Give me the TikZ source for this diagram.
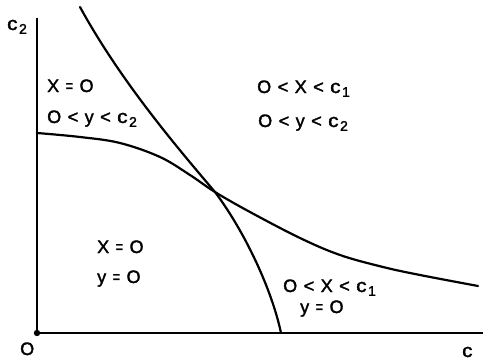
\documentclass[tikz,border=0pt]{standalone}
\usepackage{fontspec}
\setmainfont{Liberation Sans}
\newfontfamily\lblfont{Liberation Sans}[FakeBold=1.8]
\newcommand{\lowsub}[1]{\hspace{1.5pt}\raisebox{-0.4ex}{\fontsize{14}{14}\selectfont #1}}
\newcommand{\gp}{\hspace{6.5pt}}
\newcommand{\eqs}{\scalebox{0.7}[1]{=}}
\newcommand{\cc}{\scalebox{1.15}[1.05]{c}}
\begin{document}
\begin{tikzpicture}[x=1pt,y=-1pt,
  curve/.style={line width=2.2pt, line cap=round, line join=round},
  axis/.style={line width=2.2pt},
  lbl/.style={inner sep=0pt, anchor=base west, font=\lblfont\fontsize{18}{20}\selectfont}]
\useasboundingbox (0,0) rectangle (483,362);
\coordinate (O) at (37,333);
\coordinate (ytop) at (37,18);
\coordinate (xend) at (483,333);
\draw[axis] (ytop) -- (O) -- (xend);
\fill (O) circle (3.2);
% steep curve
\coordinate (s0) at (80,7);
\coordinate (sx) at (215,192);
\coordinate (s1) at (281,333);
\draw[curve] (s0) .. controls (120,80) and (175,145) .. (sx)
  .. controls (245,232) and (272,290) .. (s1);
% flat curve
\draw[curve] plot[smooth, tension=0.6] coordinates
  {(37,133) (80,137) (120,143) (160,157) (190,175) (215,192) (250,212) (300,238) (340,255) (383,267) (420,275) (478,286)};
% labels
\node[lbl] (c2) at (7,30) {\cc\lowsub{2}};
\node[lbl] (o) at (20,355) {O};
\node[lbl] (c) at (462,357) {\cc};
\node[lbl] (l1) at (47,92) {X\gp\eqs\gp O};
\node[lbl] (l2) at (47,123) {O\gp<\gp y\gp<\gp \cc\lowsub{2}};
\node[lbl] (r1) at (257,93) {O\gp<\gp X\gp<\gp \cc\lowsub{1}};
\node[lbl] (r2) at (258,127) {O\gp<\gp y\gp<\gp \cc\lowsub{2}};
\node[lbl] (b1) at (97,253) {X\gp\eqs\gp O};
\node[lbl] (b2) at (97,283) {y\gp\eqs\gp O};
\node[lbl] (d1) at (283,292) {O\gp<\gp X\gp<\gp \cc\lowsub{1}};
\node[lbl] (d2) at (300,313) {y\gp\eqs\gp O};
\end{tikzpicture}
\end{document}
